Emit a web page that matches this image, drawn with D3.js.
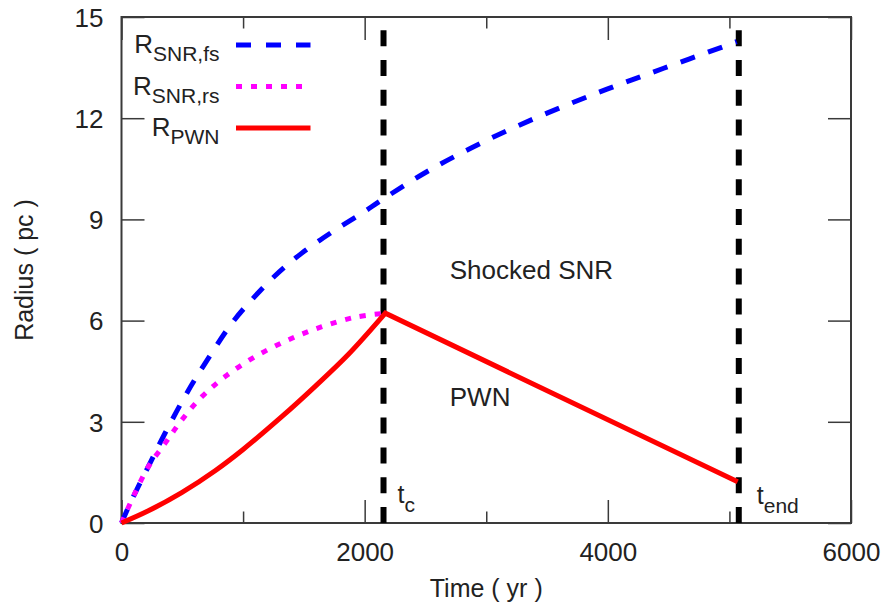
<!DOCTYPE html>
<html>
<head>
<meta charset="utf-8">
<script src="https://cdn.jsdelivr.net/npm/d3@7"></script>
<style>
  body { margin: 0; background: #fff; }
  text { font-family: "Liberation Sans", Arial, Helvetica, sans-serif; fill: #222; }
</style>
</head>
<body>
<script>
// Chart values
var fsTime   = [0, 84, 248, 358, 537, 673, 907, 1072, 1263, 1483, 1730, 1977, 2150, 2539, 3006, 3500, 3993, 4459, 4994, 5060];
var fsRadius = [0, 0.68, 1.87, 2.66, 3.85, 4.65, 5.92, 6.62, 7.33, 8.00, 8.62, 9.18, 9.60, 10.47, 11.35, 12.15, 12.86, 13.48, 14.18, 14.27];

var rsTime   = [0, 97, 221, 358, 495, 660, 852, 1099, 1373, 1648, 1922, 2170];
var rsRadius = [0, 0.78, 1.67, 2.36, 3.05, 3.74, 4.34, 4.93, 5.43, 5.82, 6.10, 6.22];

var pwnTime   = [0, 221, 495, 770, 1000, 1318, 1593, 1867, 2170, 5068];
var pwnRadius = [0, 0.36, 0.90, 1.55, 2.18, 3.15, 4.05, 5.00, 6.22, 1.22];

var tc = 2155;
var tEnd = 5077;

var xTicks = [0, 2000, 4000, 6000];
var xMinorTicks = [1000, 3000, 5000];
var yTicks = [0, 3, 6, 9, 12, 15];

// SVG area
var svgWidth = 886;
var svgHeight = 610;

var margin = { top: 17, right: 35, bottom: 87, left: 121.5 };
var chartWidth = svgWidth - margin.left - margin.right;
var chartHeight = svgHeight - margin.top - margin.bottom;

var svg = d3.select("body")
  .append("svg")
  .attr("width", svgWidth)
  .attr("height", svgHeight);

var chartGroup = svg.append("g")
  .attr("transform", `translate(${margin.left}, ${margin.top})`);

var xScale = d3.scaleLinear().domain([0, 6000]).range([0, chartWidth]);
var yScale = d3.scaleLinear().domain([0, 15]).range([chartHeight, 0]);

var axisColor = "#3a3a3a";

// axes with inward ticks (gnuplot style, mirrored)
function styleAxis(g) {
  g.select(".domain").remove();
  g.selectAll("line").attr("stroke", axisColor).attr("stroke-width", 1.5);
  g.selectAll("text").attr("font-size", 26).attr("fill", "#222");
}

chartGroup.append("g")
  .attr("transform", `translate(0, ${chartHeight})`)
  .call(d3.axisBottom(xScale).tickValues(xTicks).tickSize(-23).tickPadding(20).tickFormat(d3.format("d")))
  .call(styleAxis);

chartGroup.append("g")
  .attr("transform", `translate(0, ${chartHeight})`)
  .call(d3.axisBottom(xScale).tickValues(xMinorTicks).tickSize(-11.5).tickFormat(""))
  .call(styleAxis);

chartGroup.append("g")
  .call(d3.axisTop(xScale).tickValues(xTicks).tickSize(-23).tickFormat(""))
  .call(styleAxis);

chartGroup.append("g")
  .call(d3.axisTop(xScale).tickValues(xMinorTicks).tickSize(-11.5).tickFormat(""))
  .call(styleAxis);

chartGroup.append("g")
  .call(d3.axisLeft(yScale).tickValues(yTicks).tickSize(-23).tickPadding(18))
  .call(styleAxis)
  .selectAll("text").attr("dy", "0.36em");

chartGroup.append("g")
  .attr("transform", `translate(${chartWidth}, 0)`)
  .call(d3.axisRight(yScale).tickValues(yTicks).tickSize(-23).tickFormat(""))
  .call(styleAxis);

// frame
chartGroup.append("rect")
  .attr("width", chartWidth)
  .attr("height", chartHeight)
  .attr("fill", "none")
  .attr("stroke", axisColor)
  .attr("stroke-width", 2);

// vertical markers t_c and t_end
[tc, tEnd].forEach(function(t) {
  chartGroup.append("path")
    .attr("d", d3.line()([[xScale(t), yScale(0)], [xScale(t), yScale(15)]]))
    .attr("stroke", "#000")
    .attr("stroke-width", 6)
    .attr("stroke-dasharray", "16,13.8");
});

// curves
function toPoints(ts, rs) {
  return ts.map(function(t, i) { return { t: t, r: rs[i] }; });
}

var drawCurve = d3.line()
  .x(d => xScale(d.t))
  .y(d => yScale(d.r))
  .curve(d3.curveCatmullRom.alpha(0.5));

chartGroup.append("path")
  .attr("d", drawCurve(toPoints(fsTime, fsRadius)))
  .attr("fill", "none")
  .attr("stroke", "#0000ff")
  .attr("stroke-width", 5)
  .attr("stroke-dasharray", "15,14");

chartGroup.append("path")
  .attr("d", drawCurve(toPoints(rsTime, rsRadius)))
  .attr("fill", "none")
  .attr("stroke", "#ff00ff")
  .attr("stroke-width", 5)
  .attr("stroke-dasharray", "6,9");

// PWN: smooth rise, then straight decline
var pwnRise = toPoints(pwnTime, pwnRadius).slice(0, pwnTime.length - 1);
var pwnFall = toPoints(pwnTime, pwnRadius).slice(pwnTime.length - 2);

chartGroup.append("path")
  .attr("d", drawCurve(pwnRise) + d3.line().x(d => xScale(d.t)).y(d => yScale(d.r))(pwnFall).replace(/^M/, "L"))
  .attr("fill", "none")
  .attr("stroke", "#ff0000")
  .attr("stroke-width", 5)
  .attr("stroke-linejoin", "miter");

// region labels
chartGroup.append("text")
  .attr("x", xScale(2700))
  .attr("y", yScale(7.24))
  .attr("font-size", 26)
  .text("Shocked SNR");

chartGroup.append("text")
  .attr("x", xScale(2700))
  .attr("y", yScale(3.47))
  .attr("font-size", 26)
  .text("PWN");

// marker labels
function subLabel(x, y, main, sub) {
  var t = chartGroup.append("text")
    .attr("x", x)
    .attr("y", y)
    .attr("font-size", 25);
  t.append("tspan").text(main);
  t.append("tspan").attr("dy", 9).attr("font-size", 21).text(sub);
}
subLabel(xScale(tc) + 14, yScale(0.6), "t", "c");
subLabel(xScale(tEnd) + 18, yScale(0.55), "t", "end");

// legend
var legendItems = [
  { main: "R", sub: "SNR,fs", color: "#0000ff", dash: "15,15" },
  { main: "R", sub: "SNR,rs", color: "#ff00ff", dash: "6,9" },
  { main: "R", sub: "PWN", color: "#ff0000", dash: null }
];

legendItems.forEach(function(item, i) {
  var ly = 28 + i * 41.5;
  var txt = chartGroup.append("text")
    .attr("x", 98)
    .attr("y", ly + 8)
    .attr("text-anchor", "end")
    .attr("font-size", 26);
  txt.append("tspan").text(item.main);
  txt.append("tspan").attr("dy", 8).attr("font-size", 21).text(item.sub);

  chartGroup.append("line")
    .attr("x1", 114.5)
    .attr("x2", 189)
    .attr("y1", ly)
    .attr("y2", ly)
    .attr("stroke", item.color)
    .attr("stroke-width", 5)
    .attr("stroke-dasharray", item.dash);
});

// axis titles
svg.append("text")
  .attr("x", margin.left + xScale(3000))
  .attr("y", 597)
  .attr("text-anchor", "middle")
  .attr("font-size", 25)
  .text("Time ( yr )");

svg.append("text")
  .attr("transform", `translate(33, ${margin.top + chartHeight / 2}) rotate(-90)`)
  .attr("text-anchor", "middle")
  .attr("font-size", 25)
  .text("Radius ( pc )");
</script>
</body>
</html>
